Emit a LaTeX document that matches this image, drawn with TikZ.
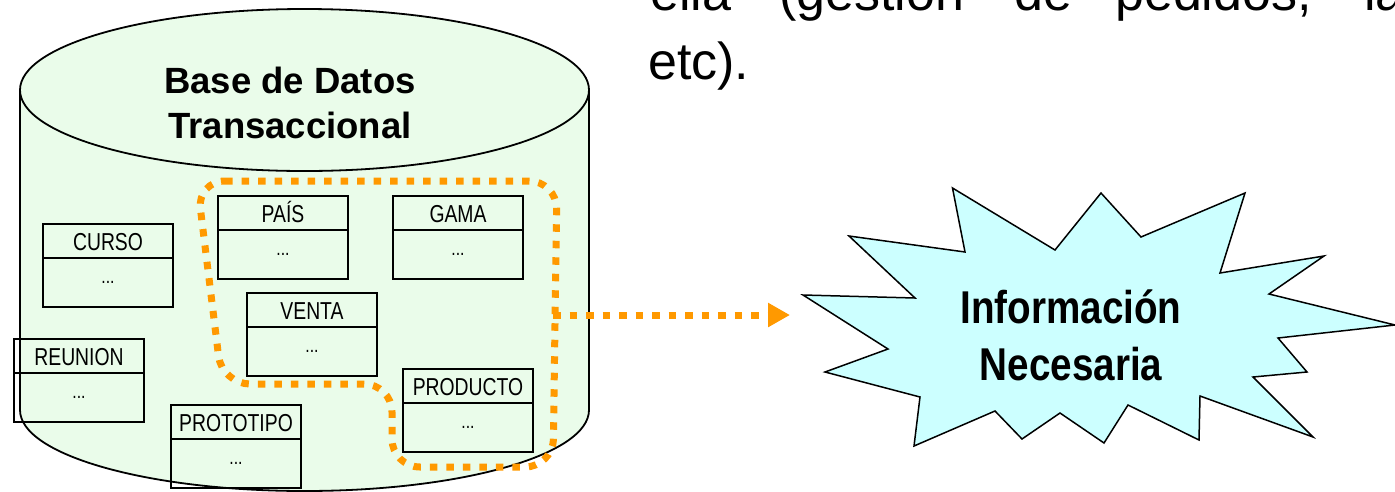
\documentclass[tikz,border=0pt]{standalone}
\usepackage{fontspec}
\setmainfont{Liberation Sans}
\newfontfamily\condfont[FakeStretch=0.79]{Liberation Sans}
\newfontfamily\condboldfont[FakeStretch=0.84]{Liberation Sans}
\usetikzlibrary{arrows.meta,positioning}

\definecolor{dbfill}{RGB}{234,252,234}
\definecolor{burstfill}{RGB}{204,255,255}
\definecolor{selorange}{RGB}{255,153,0}

\tikzset{
  dbshape/.style={draw=black, line width=1.8pt, fill=dbfill},
  tblhead/.style={draw, line width=1.3pt, inner sep=0pt, outer sep=0pt,
    minimum width=130pt, minimum height=34pt, text height=18pt, text depth=0pt,
    font=\condfont\fontsize{24.5}{24.5}\selectfont},
  tblbody/.style={draw, line width=1.3pt, inner sep=0pt, outer sep=0pt,
    minimum width=130pt, minimum height=49pt, text height=2.5pt, text depth=0pt,
    font=\condfont\fontsize{20}{20}\selectfont},
  dbtitle/.style={anchor=base, inner sep=0pt, font=\bfseries\fontsize{36.5}{40}\selectfont},
  bursttext/.style={anchor=base, inner sep=0pt, font=\condboldfont\bfseries\fontsize{46}{50}\selectfont},
  bodytext/.style={anchor=base west, inner sep=0pt, font=\fontsize{52}{60}\selectfont},
  selection/.style={draw=selorange, line width=7pt, dash pattern=on 7.5pt off 9pt, line cap=butt},
  burst/.style={draw=black, line width=1.5pt, fill=burstfill, line join=miter},
}

\begin{document}
\begin{tikzpicture}[x=1pt, y=-1pt]
\useasboundingbox (0,0) rectangle (1395,491);
\clip (0,0) rectangle (1395,491);

% paragraph text continuing from above
\node[bodytext] (w1) at (650,10) {ella};
\node[bodytext] (w2) at (779,10) {(gestión};
\node[bodytext] (w3) at (1014,10) {de};
\node[bodytext] (w4) at (1115,10) {pedidos,};
\node[bodytext] (w5) at (1364,10) {la};
\node[bodytext] (w6) at (648,79) {etc).};

% database cylinder
\path[dbshape] (20,90) -- (20,410)
  arc[start angle=180, end angle=0, x radius=284.5, y radius=81] -- (589,90);
\draw[dbshape] (304.5,90) ellipse[x radius=284.5, y radius=81];
\node[dbtitle] (dbt1) at (290,93) {Base de Datos};
\node[dbtitle] (dbt2) at (290,138) {Transaccional};

% tables
\node[tblhead, anchor=north west] (pais) at (218,196) {PAÍS};
\node[tblbody, anchor=north] (paisb) at (pais.south) {...};
\node[tblhead, anchor=north west] (gama) at (393,196) {GAMA};
\node[tblbody, anchor=north] (gamab) at (gama.south) {...};
\node[tblhead, anchor=north west] (curso) at (43,224) {CURSO};
\node[tblbody, anchor=north] (cursob) at (curso.south) {...};
\node[tblhead, anchor=north west] (venta) at (247,293) {VENTA};
\node[tblbody, anchor=north] (ventab) at (venta.south) {...};
\node[tblhead, anchor=north west] (reunion) at (14,339) {REUNION};
\node[tblbody, anchor=north] (reunionb) at (reunion.south) {...};
\node[tblhead, anchor=north west] (prototipo) at (171,405) {PROTOTIPO};
\node[tblbody, anchor=north] (prototipob) at (prototipo.south) {...};
\node[tblhead, anchor=north west] (producto) at (403,369) {PRODUCTO};
\node[tblbody, anchor=north] (productob) at (producto.south) {...};

% selected group of tables
\draw[selection, rounded corners=28pt]
  (197,181) -- (557,181) -- (553,467) -- (392,467) -- (392,384)
  -- (222,384) -- cycle;

% information burst
\draw[burst] (952.5,188) -- (965,252) -- (849,236) -- (915,298) -- (803,295)
  -- (888,349) -- (825,372) -- (920,397) -- (914,446) -- (995,411)
  -- (1022,439) -- (1060,413) -- (1104,443) -- (1128,405) -- (1199,440)
  -- (1200,396) -- (1313,437) -- (1253,377) -- (1307,372) -- (1278,338)
  -- (1395,325) -- (1269,294) -- (1324,256) -- (1220,273) -- (1245,193)
  -- (1141,237) -- (1101,193) -- (1055,250) -- cycle;
\node[bursttext] (inf1) at (1071,323) {Información};
\node[bursttext] (inf2) at (1071,380) {Necesaria};

% arrow from the selection to the burst
\coordinate (selright) at (553,315);
\coordinate (bursttip) at (790,315);
\draw[selection, -{Triangle[length=22pt, width=23pt]}] (selright) -- (bursttip);
\end{tikzpicture}
\end{document}
